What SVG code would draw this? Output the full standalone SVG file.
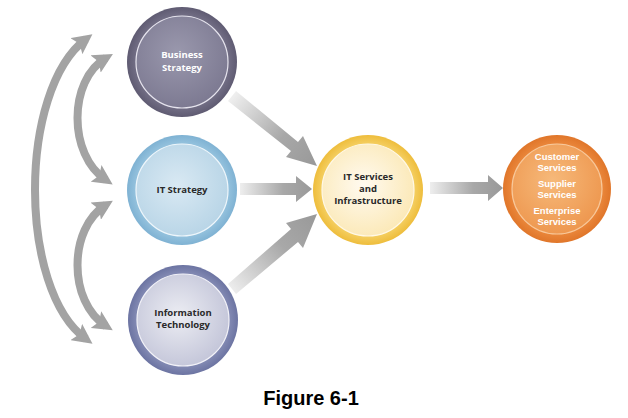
<svg xmlns="http://www.w3.org/2000/svg" width="628" height="418" viewBox="0 0 628 418">
<style>
.lbl{font-family:"Open Sans","DejaVu Sans",sans-serif;font-weight:bold;font-size:9.5px;text-anchor:middle}
.sm{font-family:"Liberation Sans",Arial,sans-serif;font-size:9.5px}
.w{fill:#ffffff}
.d{fill:#2a2a2a}
.cur{fill:none;stroke:#a3a3a3;stroke-width:8}
.cap{font-family:"Liberation Sans",Arial,sans-serif;font-weight:bold;font-size:20px;text-anchor:middle;fill:#000}
</style>
<defs>
<radialGradient id="gBiz" cx="0.45" cy="0.4" r="0.6"><stop offset="0" stop-color="#9a98ad"/><stop offset="1" stop-color="#7d7a92"/></radialGradient>
<radialGradient id="gBizO" cx="0.5" cy="0.5" r="0.5"><stop offset="0.8" stop-color="#77738a"/><stop offset="1" stop-color="#5f5b72"/></radialGradient>
<radialGradient id="gIT" cx="0.45" cy="0.45" r="0.6"><stop offset="0" stop-color="#d9e9f3"/><stop offset="1" stop-color="#b7d4e6"/></radialGradient>
<radialGradient id="gITO" cx="0.5" cy="0.5" r="0.5"><stop offset="0.8" stop-color="#9ac6e0"/><stop offset="1" stop-color="#7fb2d3"/></radialGradient>
<radialGradient id="gInf" cx="0.45" cy="0.45" r="0.6"><stop offset="0" stop-color="#ecedf3"/><stop offset="1" stop-color="#c2c4d8"/></radialGradient>
<radialGradient id="gInfO" cx="0.5" cy="0.5" r="0.5"><stop offset="0.8" stop-color="#8990b8"/><stop offset="1" stop-color="#6c74a2"/></radialGradient>
<radialGradient id="gSvc" cx="0.45" cy="0.45" r="0.6"><stop offset="0" stop-color="#fffaf0"/><stop offset="1" stop-color="#fbe8b5"/></radialGradient>
<radialGradient id="gSvcO" cx="0.5" cy="0.5" r="0.5"><stop offset="0.8" stop-color="#f6d36a"/><stop offset="1" stop-color="#eebd3c"/></radialGradient>
<radialGradient id="gCus" cx="0.45" cy="0.4" r="0.6"><stop offset="0" stop-color="#f6b97a"/><stop offset="1" stop-color="#ee9850"/></radialGradient>
<radialGradient id="gCusO" cx="0.5" cy="0.5" r="0.5"><stop offset="0.8" stop-color="#ec8a3e"/><stop offset="1" stop-color="#e0762a"/></radialGradient>
<linearGradient id="gA1" gradientUnits="userSpaceOnUse" x1="232" y1="95" x2="316" y2="165"><stop offset="0" stop-color="#f0f0f0"/><stop offset="0.6" stop-color="#a8a8a8"/><stop offset="1" stop-color="#999"/></linearGradient>
<linearGradient id="gA2" gradientUnits="userSpaceOnUse" x1="240" y1="0" x2="312" y2="0"><stop offset="0" stop-color="#eeeeee"/><stop offset="0.6" stop-color="#a8a8a8"/><stop offset="1" stop-color="#999"/></linearGradient>
<linearGradient id="gA3" gradientUnits="userSpaceOnUse" x1="230" y1="292" x2="316" y2="214"><stop offset="0" stop-color="#f0f0f0"/><stop offset="0.6" stop-color="#a8a8a8"/><stop offset="1" stop-color="#999"/></linearGradient>
<linearGradient id="gA4" gradientUnits="userSpaceOnUse" x1="430" y1="0" x2="502" y2="0"><stop offset="0" stop-color="#eeeeee"/><stop offset="0.6" stop-color="#a8a8a8"/><stop offset="1" stop-color="#999"/></linearGradient>
<marker id="ah" viewBox="0 0 10 10" refX="6" refY="5" markerWidth="2.5" markerHeight="2.5" orient="auto-start-reverse" markerUnits="strokeWidth"><path d="M0,0 L10,5 L0,10 L2,5 Z" fill="#a3a3a3"/></marker>
</defs>
<rect width="628" height="418" fill="#ffffff"/>
<g id="connectors">
<path class="cur" d="M86,39 C18,90 18,290 86,339" marker-start="url(#ah)" marker-end="url(#ah)"/>
<path class="cur" d="M106,58 C68,80 68,155 106,180" marker-start="url(#ah)" marker-end="url(#ah)"/>
<path class="cur" d="M106,205 C68,228 68,302 106,326" marker-start="url(#ah)" marker-end="url(#ah)"/>
<path d="M228,101 L236,91 L298,142 L303,136 L317,166 L286,157 L291,151 Z" fill="url(#gA1)"/>
<path d="M240,183 L296,183 L296,176 L312,189 L296,202 L296,195 L240,195 Z" fill="url(#gA2)"/>
<path d="M228,284 L236,294 L298,242 L303,248 L317,214 L286,223 L291,229 Z" fill="url(#gA3)"/>
<path d="M430,182 L488,182 L488,175 L503,188 L488,201 L488,194 L430,194 Z" fill="url(#gA4)"/>
</g>
<g id="business-strategy">
<circle cx="182" cy="62" r="55" fill="url(#gBizO)"/>
<circle cx="182" cy="62" r="46" fill="url(#gBiz)" stroke="#e6e4ee" stroke-width="1.2"/>
<text class="lbl w" x="182" y="58">Business</text>
<text class="lbl w" x="182" y="70.5">Strategy</text>
</g>
<g id="it-strategy">
<circle cx="182" cy="190" r="55" fill="url(#gITO)"/>
<circle cx="182" cy="190" r="46" fill="url(#gIT)" stroke="#eef6fb" stroke-width="1.2"/>
<text class="lbl d" x="182" y="193">IT Strategy</text>
</g>
<g id="information-technology">
<circle cx="183" cy="320" r="55" fill="url(#gInfO)"/>
<circle cx="183" cy="320" r="46" fill="url(#gInf)" stroke="#f2f2f8" stroke-width="1.2"/>
<text class="lbl d" x="183" y="316">Information</text>
<text class="lbl d" x="183" y="328">Technology</text>
</g>
<g id="it-services">
<circle cx="368" cy="190" r="55" fill="url(#gSvcO)"/>
<circle cx="368" cy="190" r="46" fill="url(#gSvc)" stroke="#fff8e6" stroke-width="1.2"/>
<text class="lbl d" x="368" y="180">IT Services</text>
<text class="lbl d" x="368" y="192">and</text>
<text class="lbl d" x="368" y="204">Infrastructure</text>
</g>
<g id="customer-services">
<circle cx="557" cy="189" r="54" fill="url(#gCusO)"/>
<circle cx="557" cy="189" r="45" fill="url(#gCus)" stroke="#f8c89a" stroke-width="1.2"/>
<text class="lbl sm w" x="557" y="160">Customer</text>
<text class="lbl sm w" x="557" y="171">Services</text>
<text class="lbl sm w" x="557" y="187">Supplier</text>
<text class="lbl sm w" x="557" y="198">Services</text>
<text class="lbl sm w" x="557" y="214">Enterprise</text>
<text class="lbl sm w" x="557" y="225">Services</text>
</g>
<text class="cap" x="311" y="405">Figure 6-1</text>
</svg>
